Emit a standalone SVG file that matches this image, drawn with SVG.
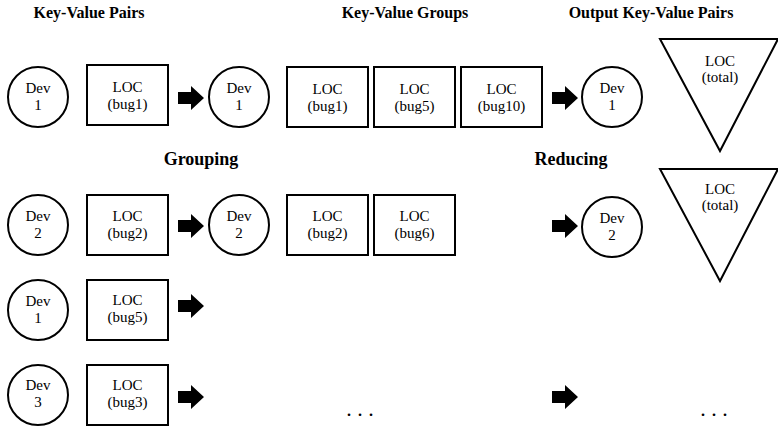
<svg xmlns="http://www.w3.org/2000/svg" width="778" height="429" viewBox="0 0 778 429">
<style>
.n{fill:#fff;stroke:#000;stroke-width:2}
.t{font-family:'Liberation Serif','Times New Roman',serif;font-size:15px;text-anchor:middle;fill:#000}
.h{font-family:'Liberation Serif','Times New Roman',serif;font-size:16px;font-weight:bold;text-anchor:middle;fill:#000}
.s{font-family:'Liberation Serif','Times New Roman',serif;font-size:18px;font-weight:bold;text-anchor:middle;fill:#000}
.d{font-family:'Liberation Serif','Times New Roman',serif;font-size:22px;text-anchor:middle;fill:#000}
</style>
<defs>
<path id="arr" d="M-13,-6 H0 V-12 L13,0 L0,12 V6 H-13 Z" fill="#000"/>
</defs>
<rect width="778" height="429" fill="#fff"/>
<g id="titles">
<text class="h" x="89" y="18">Key-Value Pairs</text>
<text class="h" x="405" y="18">Key-Value Groups</text>
<text class="h" x="651" y="18">Output Key-Value Pairs</text>
<text class="s" x="201" y="165">Grouping</text>
<text class="s" x="571" y="165">Reducing</text>
</g>
<g id="connectors">
<use href="#arr" x="191" y="98"/>
<use href="#arr" x="565" y="98"/>
<use href="#arr" x="191" y="226"/>
<use href="#arr" x="565" y="226"/>
<use href="#arr" x="191" y="306"/>
<use href="#arr" x="191" y="397"/>
<use href="#arr" x="565" y="397"/>
</g>
<g id="r1dev1"><circle class="n" cx="38" cy="97" r="30"/><text class="t" x="38" y="93">Dev</text><text class="t" x="38" y="110">1</text></g>
<g id="r1loc1"><rect class="n" x="87" y="65" width="81" height="60"/><text class="t" x="127.5" y="92">LOC</text><text class="t" x="127.5" y="109">(bug1)</text></g>
<g id="g1dev1"><circle class="n" cx="239" cy="97" r="30"/><text class="t" x="239" y="93">Dev</text><text class="t" x="239" y="110">1</text></g>
<g id="g1loc1"><rect class="n" x="287" y="67" width="81" height="60"/><text class="t" x="327.5" y="94">LOC</text><text class="t" x="327.5" y="111">(bug1)</text></g>
<g id="g1loc5"><rect class="n" x="374" y="67" width="81" height="60"/><text class="t" x="414.5" y="94">LOC</text><text class="t" x="414.5" y="111">(bug5)</text></g>
<g id="g1loc10"><rect class="n" x="461" y="67" width="81" height="60"/><text class="t" x="501.5" y="94">LOC</text><text class="t" x="501.5" y="111">(bug10)</text></g>
<g id="o1dev1"><circle class="n" cx="612" cy="97" r="30"/><text class="t" x="612" y="93">Dev</text><text class="t" x="612" y="110">1</text></g>
<g id="o1tot"><polygon class="n" points="660,39 778,39 720,151"/><text class="t" x="720" y="66">LOC</text><text class="t" x="720" y="82">(total)</text></g>
<g id="r2dev2"><circle class="n" cx="38" cy="225" r="30"/><text class="t" x="38" y="221">Dev</text><text class="t" x="38" y="238">2</text></g>
<g id="r2loc2"><rect class="n" x="87" y="195" width="81" height="60"/><text class="t" x="127.5" y="221">LOC</text><text class="t" x="127.5" y="238">(bug2)</text></g>
<g id="g2dev2"><circle class="n" cx="239" cy="225" r="30"/><text class="t" x="239" y="221">Dev</text><text class="t" x="239" y="238">2</text></g>
<g id="g2loc2"><rect class="n" x="287" y="195" width="81" height="60"/><text class="t" x="327.5" y="221">LOC</text><text class="t" x="327.5" y="238">(bug2)</text></g>
<g id="g2loc6"><rect class="n" x="374" y="195" width="81" height="60"/><text class="t" x="414.5" y="221">LOC</text><text class="t" x="414.5" y="238">(bug6)</text></g>
<g id="o2dev2"><circle class="n" cx="612" cy="227" r="30"/><text class="t" x="612" y="223">Dev</text><text class="t" x="612" y="240">2</text></g>
<g id="o2tot"><polygon class="n" points="660,169 778,169 720,281"/><text class="t" x="720" y="194">LOC</text><text class="t" x="720" y="210">(total)</text></g>
<g id="r3dev1"><circle class="n" cx="38" cy="310" r="30"/><text class="t" x="38" y="306">Dev</text><text class="t" x="38" y="323">1</text></g>
<g id="r3loc5"><rect class="n" x="87" y="280" width="81" height="60"/><text class="t" x="127.5" y="305">LOC</text><text class="t" x="127.5" y="322">(bug5)</text></g>
<g id="r4dev3"><circle class="n" cx="38" cy="395" r="30"/><text class="t" x="38" y="390">Dev</text><text class="t" x="38" y="407">3</text></g>
<g id="r4loc3"><rect class="n" x="87" y="365" width="81" height="60"/><text class="t" x="127.5" y="390">LOC</text><text class="t" x="127.5" y="407">(bug3)</text></g>
<g id="dots"><text class="d" x="360" y="416">. . .</text><text class="d" x="714" y="416">. . .</text></g>
</svg>
